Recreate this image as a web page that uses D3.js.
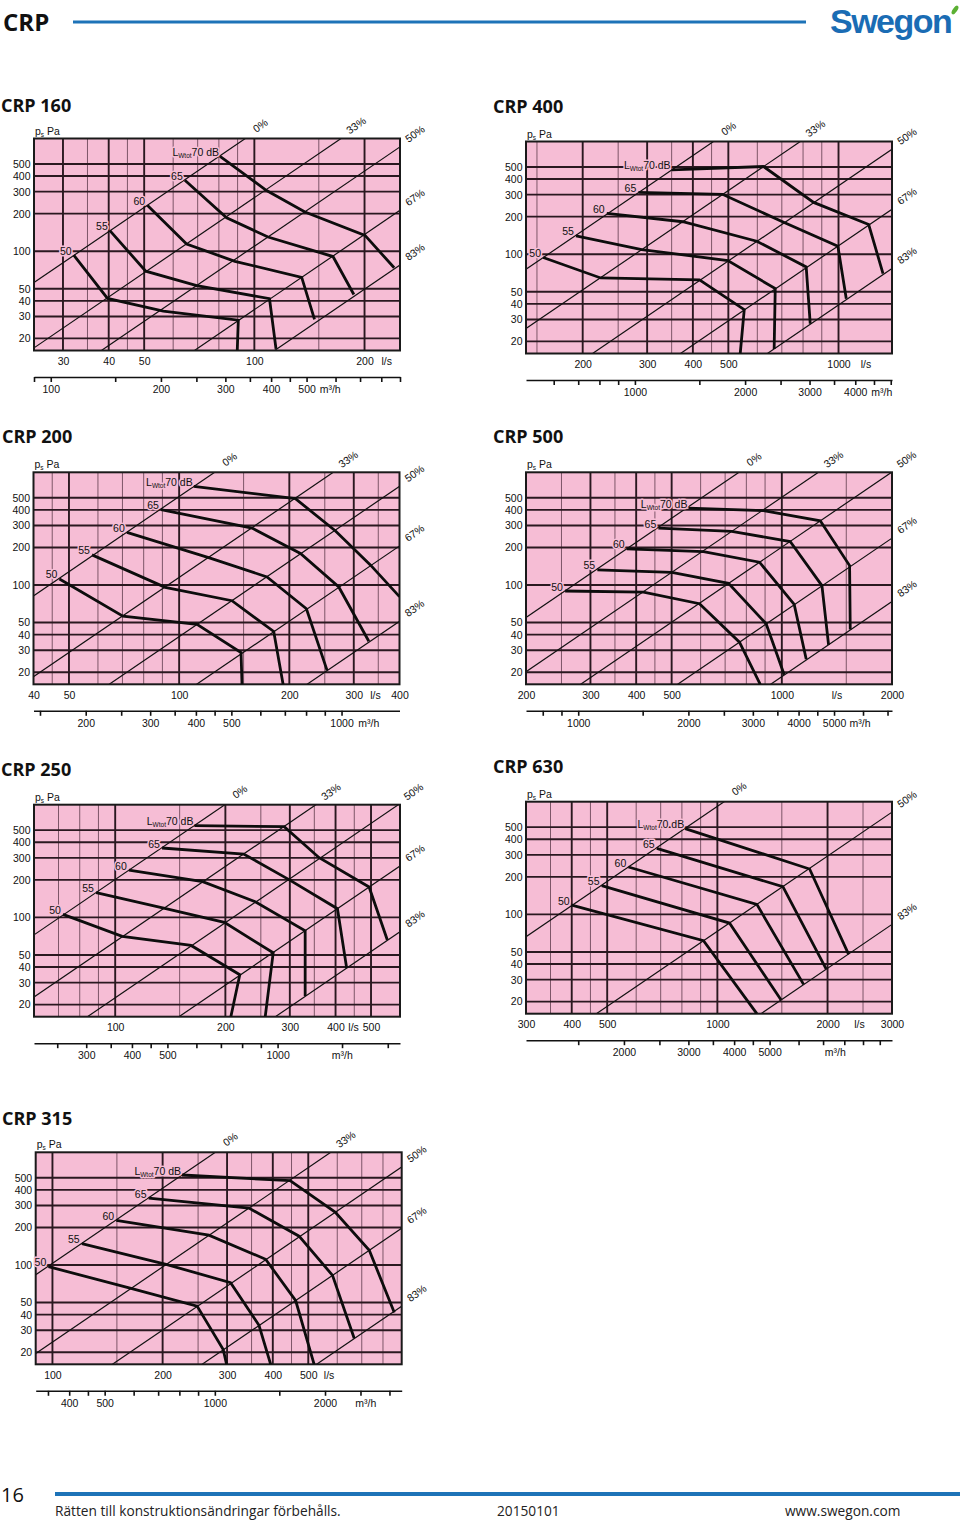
<!DOCTYPE html>
<html><head><meta charset="utf-8">
<script src="https://cdn.jsdelivr.net/npm/d3@7"></script>
<style>
body{margin:0;background:#fff;}
svg text{font-family:"Liberation Sans",Arial,sans-serif;}
</style></head><body>
<svg id="c" width="960" height="1523"></svg>
<script>
// ---------- shared values ----------
const levels = [70, 65, 60, 55, 50];
const pressureTicks = [20, 30, 40, 50, 100, 200, 300, 400, 500];
const pressureDomain = [16, 800];
const gridMultipliers = [1, 1.5, 2, 2.5, 3, 3.5, 4, 4.5, 5, 6, 7, 8, 9];
const damperNames5 = ["0%", "33%", "50%", "67%", "83%"];
const damperNames3 = ["0%", "50%", "83%"];

// ---------- CRP 160 ----------
const crp160_flowDomain = [25, 250];
const crp160_flowLabels = [30, 40, 50, 100, 200];
const crp160_m3hLabels = [100, 200, 300, 400, 500];
const crp160_damperQ100 = [33.4, 61, 95.5, 171.5, 284];   // flow (l/s) at 100 Pa
const crp160_curves = [
  [[80.6, 575], [108, 306], [137.5, 206], [200.6, 134], [241, 73.6]],
  [[64.6, 370], [84, 185], [109, 130], [164, 90.6], [187, 45]],
  [[51, 233], [65.3, 114], [88.5, 83], [134.7, 61.6], [146, 28.4]],
  [[40.3, 146], [50.5, 69.2], [69.6, 53], [110, 41.6], [114.6, 16.5]],
  [[32.1, 92.9], [39.7, 41.8], [56.4, 33.1], [90.4, 28], [89.8, 16]]
];

// ---------- CRP 400 ----------
const crp400_flowDomain = [140, 1400];
const crp400_flowLabels = [200, 300, 400, 500, 1000];
const crp400_m3hLabels = [1000, 2000, 3000, 4000];
const crp400_damperQ100 = [161, 278, 532, 925, 1598];
const crp400_curves = [
  [[350, 474], [624, 504], [855, 260], [1209, 173], [1323, 69.9]],
  [[284, 313], [482, 302], [708, 180], [996, 116], [1050, 44]],
  [[232.7, 212], [375.5, 182], [598, 127], [816, 79.1], [837, 27.7]],
  [[191.8, 140], [290, 109], [498.5, 88.9], [671.6, 53], [667, 17.4]],
  [[156, 94], [224, 64.5], [417, 62.2], [552.6, 35.9], [538.8, 16]]
];

// ---------- CRP 200 ----------
const crp200_flowDomain = [40, 400];
const crp200_flowLabels = [40, 50, 100, 200, 300, 400];
const crp200_m3hLabels = [200, 300, 400, 500, 1000];
const crp200_damperQ100 = [44.2, 93.2, 161, 279, 559];
const crp200_curves = [
  [[109.6, 618], [207.8, 492], [267, 272], [333, 144.8], [400, 80.6]],
  [[89.2, 401], [158.2, 285.6], [214.5, 178.7], [273, 96.4], [329.8, 35.4]],
  [[72, 263.6], [120.4, 165.9], [173.8, 116], [222.7, 64.5], [253.6, 20.7]],
  [[57.8, 174.3], [91.6, 95.8], [139.4, 74.8], [181.3, 42.4], [192.3, 16]],
  [[47.1, 111.7], [70.2, 56.3], [111.9, 48.3], [147.6, 28.7], [148.5, 16]]
];

// ---------- CRP 500 ----------
const crp500_flowDomain = [200, 2000];
const crp500_flowLabels = [200, 300, 400, 500, 1000, 2000];
const crp500_m3hLabels = [1000, 2000, 3000, 4000, 5000];
const crp500_damperQ100 = [270, 445, 705, 1298, 2330];
const crp500_curves = [
  [[555.8, 413.7], [891, 393.7], [1273.6, 327], [1531.6, 143], [1538, 44]],
  [[460, 285.6], [730, 268.5], [1054, 223], [1287, 98.8], [1342, 33.1]],
  [[377, 194.8], [611, 185.4], [869, 152.2], [1081, 69.9], [1166, 25.4]],
  [[313.3, 132], [500.4, 126.4], [715, 103.1], [906, 48.9], [1015, 19.1]],
  [[255.8, 89.5], [418.8, 87.8], [595.8, 70.8], [766, 34.8], [873, 16]]
];

// ---------- CRP 250 ----------
const crp250_flowDomain = [60, 600];
const crp250_flowLabels = [100, 200, 300, 400, 500];
const crp250_m3hLabels = [300, 400, 500, 1000];
const crp250_damperQ100 = [70.5, 125, 210, 373.5, 685];
const crp250_curves = [
  [[164.6, 543.7], [289.6, 533.7], [360.8, 301], [494, 175.1], [554, 65.8]],
  [[134.3, 359.8], [224.4, 322], [297.6, 201.8], [404.8, 117.4], [429, 39.2]],
  [[109, 239.7], [173.4, 193.2], [241.4, 133.6], [330.4, 78.2], [330.4, 23.4]],
  [[88.7, 157.7], [135.7, 118.8], [198.7, 91.2], [270.2, 52], [257, 16]],
  [[72, 105.7], [104.5, 70.4], [161.2, 59.6], [219, 34.7], [207, 16]]
];

// ---------- CRP 630 ----------
const crp630_flowDomain = [300, 3000];
const crp630_flowLabels = [300, 400, 500, 1000, 2000, 3000];
const crp630_m3hLabels = [2000, 3000, 4000, 5000];
const crp630_damperQ100 = [369, 1168, 3290];
const crp630_curves = [
  [[816.6, 486.6], [1786.6, 231], [2283.6, 47.8]],
  [[683, 338.4], [1510, 166.7], [1983.6, 36.4]],
  [[571.5, 239.7], [1282, 120.3], [1720, 27.5]],
  [[483, 169.8], [1079, 85.2], [1491.6, 20.7]],
  [[400, 118.8], [916.5, 61.5], [1282, 16]]
];

// ---------- CRP 315 ----------
const crp315_flowDomain = [90, 900];
const crp315_flowLabels = [100, 200, 300, 400, 500];
const crp315_m3hLabels = [400, 500, 1000, 2000];
const crp315_damperQ100 = [98.5, 203.6, 364.5, 641, 1317];
const crp315_curves = [
  [[226, 526], [446, 473.8], [592, 265.2], [733.9, 131.2], [859, 41.6]],
  [[183.2, 343.7], [344.3, 285.6], [471.9, 170.1], [582.4, 82.6], [667.5, 25.9]],
  [[149.4, 227.3], [267.5, 173.2], [382.4, 111.1], [462, 51.7], [518.8, 16]],
  [[120.3, 148.4], [204.4, 101.2], [306.7, 72.1], [366.7, 32.9], [394.7, 16]],
  [[97.5, 97], [163.9, 64.9], [248.5, 46.8], [292.8, 21], [299, 16]]
];

// ---------- layout (positions only) ----------
const panels = [
  {key: "160", title: "CRP 160", x0: 34, y0: 138.5, tx: 1, ty: 112, lsAt: 230, m3hAt: 580,
   flow: crp160_flowDomain, flowLabels: crp160_flowLabels, m3hLabels: crp160_m3hLabels, dampers: crp160_damperQ100, names: damperNames5, curves: crp160_curves},
  {key: "400", title: "CRP 400", x0: 526, y0: 141.5, tx: 493, ty: 113, lsAt: 1189, m3hAt: 4728,
   flow: crp400_flowDomain, flowLabels: crp400_flowLabels, m3hLabels: crp400_m3hLabels, dampers: crp400_damperQ100, names: damperNames5, curves: crp400_curves},
  {key: "200", title: "CRP 200", x0: 33.5, y0: 472.3, tx: 2, ty: 443, lsAt: 344, m3hAt: 1187,
   flow: crp200_flowDomain, flowLabels: crp200_flowLabels, m3hLabels: crp200_m3hLabels, dampers: crp200_damperQ100, names: damperNames5, curves: crp200_curves},
  {key: "500", title: "CRP 500", x0: 526, y0: 472.3, tx: 493, ty: 443, lsAt: 1414, m3hAt: 5890,
   flow: crp500_flowDomain, flowLabels: crp500_flowLabels, m3hLabels: crp500_m3hLabels, dampers: crp500_damperQ100, names: damperNames5, curves: crp500_curves},
  {key: "250", title: "CRP 250", x0: 34, y0: 804.7, tx: 1, ty: 776, lsAt: 448, m3hAt: 1503,
   flow: crp250_flowDomain, flowLabels: crp250_flowLabels, m3hLabels: crp250_m3hLabels, dampers: crp250_damperQ100, names: damperNames5, curves: crp250_curves},
  {key: "630", title: "CRP 630", x0: 526, y0: 801.7, tx: 493, ty: 773, lsAt: 2445, m3hAt: 7560,
   flow: crp630_flowDomain, flowLabels: crp630_flowLabels, m3hLabels: crp630_m3hLabels, dampers: crp630_damperQ100, names: damperNames3, curves: crp630_curves},
  {key: "315", title: "CRP 315", x0: 35.7, y0: 1152.3, tx: 2, ty: 1125, lsAt: 570, m3hAt: 2585,
   flow: crp315_flowDomain, flowLabels: crp315_flowLabels, m3hLabels: crp315_m3hLabels, dampers: crp315_damperQ100, names: damperNames5, curves: crp315_curves}
];

const W = 366, H = 212;
const PINK = "#f6bdd5", BLUE = "#1d73b8";
const svg = d3.select("#c");
const defs = svg.append("defs");

function logGrid(lo, hi) {
  const out = [];
  for (let d = Math.pow(10, Math.floor(Math.log10(lo)) - 1); d <= hi; d *= 10)
    for (const m of gridMultipliers) {
      const v = +(m * d).toPrecision(6);
      if (v >= lo * 0.999 && v <= hi * 1.001) out.push(v);
    }
  return out;
}

function curveLabel(g, px, py, level, halo) {
  const t = g.append("text").attr("font-size", 10.5);
  if (halo) t.attr("fill", PINK).attr("stroke", PINK).attr("stroke-width", 3).attr("stroke-linejoin", "round");
  else t.attr("fill", "#111");
  if (level === 70) {
    t.attr("x", px - 1).attr("y", py - 0.5).attr("text-anchor", "end");
    t.append("tspan").text("L");
    t.append("tspan").attr("font-size", 6.5).attr("dy", 2).text("Wtot");
    t.append("tspan").attr("dy", -2).text(level + " dB");
  } else {
    t.attr("x", px - 8).attr("y", py - 0.5).attr("text-anchor", "middle").text(level);
  }
}

function drawPanel(P) {
  const [a, b] = P.flow;
  const x = d3.scaleLog().domain(P.flow).range([P.x0, P.x0 + W]);
  const y = d3.scaleLog().domain(pressureDomain).range([P.y0 + H, P.y0]);
  const g = svg.append("g");
  const clipId = "clip" + P.key;
  defs.append("clipPath").attr("id", clipId).append("rect")
    .attr("x", P.x0).attr("y", P.y0).attr("width", W).attr("height", H);

  g.append("text").attr("x", P.tx).attr("y", P.ty)
    .style("font-family", "'Open Sans',sans-serif").attr("font-weight", 700).attr("font-size", 18)
    .attr("fill", "#111").text(P.title);

  g.append("rect").attr("x", P.x0).attr("y", P.y0).attr("width", W).attr("height", H).attr("fill", PINK);

  // vertical grid
  const vgrid = logGrid(a, b).filter(v => v > a * 1.001 && v < b * 0.999);
  g.append("g").selectAll("line").data(vgrid).join("line")
    .attr("x1", d => x(d)).attr("x2", d => x(d)).attr("y1", P.y0).attr("y2", P.y0 + H)
    .attr("stroke", d => P.flowLabels.includes(d) ? "#2a1820" : "#7d5668")
    .attr("stroke-width", d => P.flowLabels.includes(d) ? 1.9 : 1);

  // horizontal grid
  g.append("g").selectAll("line").data(pressureTicks).join("line")
    .attr("x1", P.x0).attr("x2", P.x0 + W).attr("y1", d => y(d)).attr("y2", d => y(d))
    .attr("stroke", "#2a1820").attr("stroke-width", 1.9);

  // damper lines p = 100 (q/q100)^2
  const dl = d3.line().x(d => x(d[0])).y(d => y(d[1]));
  const dg = g.append("g").attr("clip-path", `url(#${clipId})`);
  P.dampers.forEach(q100 => {
    const pts = [a * 0.5, b * 1.5].map(q => [q, 100 * Math.pow(q / q100, 2)]);
    dg.append("path").attr("d", dl(pts)).attr("fill", "none").attr("stroke", "#111").attr("stroke-width", 1.2);
  });

  // border
  g.append("rect").attr("x", P.x0).attr("y", P.y0).attr("width", W).attr("height", H)
    .attr("fill", "none").attr("stroke", "#1a1a1a").attr("stroke-width", 2);

  // damper labels
  P.dampers.forEach((q100, i) => {
    const qTop = q100 * Math.sqrt(pressureDomain[1] / 100);
    let ex, ey;
    if (qTop <= b) { ex = x(qTop); ey = P.y0; }
    else { ex = x(b); ey = y(100 * Math.pow(b / q100, 2)); }
    const cx = ex + 15, cy = ey - 13;
    g.append("text").attr("transform", `translate(${cx},${cy}) rotate(-35)`)
      .attr("text-anchor", "middle").attr("dy", "0.35em").attr("font-size", 10.5).attr("fill", "#111")
      .text(P.names[i]);
  });

  // curves
  const cl = d3.line().x(d => x(d[0])).y(d => y(d[1]));
  const cg = g.append("g").attr("clip-path", `url(#${clipId})`);
  P.curves.forEach(c => {
    cg.append("path").attr("d", cl(c)).attr("fill", "none").attr("stroke", "#0d0d0d")
      .attr("stroke-width", 2.8).attr("stroke-linejoin", "miter");
  });

  // curve labels: pink halo copy, then black text
  P.curves.forEach((c, i) => curveLabel(g, x(c[0][0]), y(c[0][1]), levels[i], true));
  P.curves.forEach((c, i) => curveLabel(g, x(c[0][0]), y(c[0][1]), levels[i], false));

  // y axis labels
  const ya = g.append("g").attr("transform", `translate(${P.x0},0)`)
    .call(d3.axisLeft(y).tickValues(pressureTicks).tickFormat(d3.format("d")).tickSize(0).tickPadding(3.5));
  ya.select(".domain").remove();
  ya.selectAll("text").attr("font-size", 10.5).attr("fill", "#111").style("font-family", "'Liberation Sans',Arial,sans-serif");

  // ps Pa
  const pt = g.append("text").attr("x", P.x0 + 1).attr("y", P.y0 - 4).attr("font-size", 10.5).attr("fill", "#111");
  pt.append("tspan").text("p");
  pt.append("tspan").attr("font-size", 6.5).attr("dy", 2).text("s");
  pt.append("tspan").attr("dy", -2).text(" Pa");

  // l/s labels
  const xa = g.append("g").attr("transform", `translate(0,${P.y0 + H})`)
    .call(d3.axisBottom(x).tickValues(P.flowLabels).tickFormat(d3.format("d")).tickSize(0).tickPadding(6.8));
  xa.select(".domain").remove();
  xa.selectAll("text").attr("font-size", 10.5).attr("fill", "#111").style("font-family", "'Liberation Sans',Arial,sans-serif");
  g.append("text").attr("x", x(P.lsAt)).attr("y", P.y0 + H + 14.3).attr("text-anchor", "middle")
    .attr("font-size", 10.5).attr("fill", "#111").text("l/s");

  // m3/h axis
  const m = d3.scaleLog().domain([a * 3.6, b * 3.6]).range([P.x0, P.x0 + W]);
  const mt = logGrid(a * 3.6, b * 3.6);
  const ma = g.append("g").attr("transform", `translate(0,${P.y0 + H + 26.5})`)
    .call(d3.axisBottom(m).tickValues(mt).tickSizeInner(5).tickSizeOuter(0).tickPadding(3.5)
      .tickFormat(d => P.m3hLabels.includes(d) ? d3.format("d")(d) : ""));
  ma.select(".domain").attr("stroke", "#111").attr("stroke-width", 1.6);
  ma.selectAll(".tick line").attr("stroke", "#111").attr("stroke-width", 1.6);
  ma.selectAll("text").attr("font-size", 10.5).attr("fill", "#111").style("font-family", "'Liberation Sans',Arial,sans-serif");
  g.append("text").attr("x", m(P.m3hAt)).attr("y", P.y0 + H + 42.5).attr("text-anchor", "middle")
    .attr("font-size", 10.5).attr("fill", "#111").text("m³/h");
}

panels.forEach(drawPanel);

// ---------- header ----------
svg.append("text").attr("x", 3).attr("y", 31).style("font-family", "'Open Sans',sans-serif")
  .attr("font-weight", 700).attr("font-size", 24).attr("fill", "#111").text("CRP");
svg.append("line").attr("x1", 73).attr("x2", 806).attr("y1", 22).attr("y2", 22)
  .attr("stroke", BLUE).attr("stroke-width", 3.2);
svg.append("text").attr("x", 830).attr("y", 33).style("font-family", "'Liberation Sans',Arial,sans-serif")
  .attr("font-weight", 700).attr("font-size", 34).attr("letter-spacing", -1.5).attr("fill", "#1a6cb4")
  .text("Swegon");
svg.append("ellipse").attr("cx", 955).attr("cy", 10).attr("rx", 2.2).attr("ry", 5)
  .attr("transform", "rotate(35,955,10)").attr("fill", "#5bb033");

// ---------- footer ----------
svg.append("text").attr("x", 1).attr("y", 1502).style("font-family", "'Open Sans',sans-serif")
  .attr("font-size", 20).attr("fill", "#111").text("16");
svg.append("line").attr("x1", 55).attr("x2", 960).attr("y1", 1494).attr("y2", 1494)
  .attr("stroke", BLUE).attr("stroke-width", 4);
const foot = [["Rätten till konstruktionsändringar förbehålls.", 55], ["20150101", 497], ["www.swegon.com", 785]];
foot.forEach(([t, fx]) => svg.append("text").attr("x", fx).attr("y", 1516)
  .style("font-family", "'Open Sans',sans-serif").attr("font-size", 13.7).attr("fill", "#222").text(t));
</script>
</body></html>
